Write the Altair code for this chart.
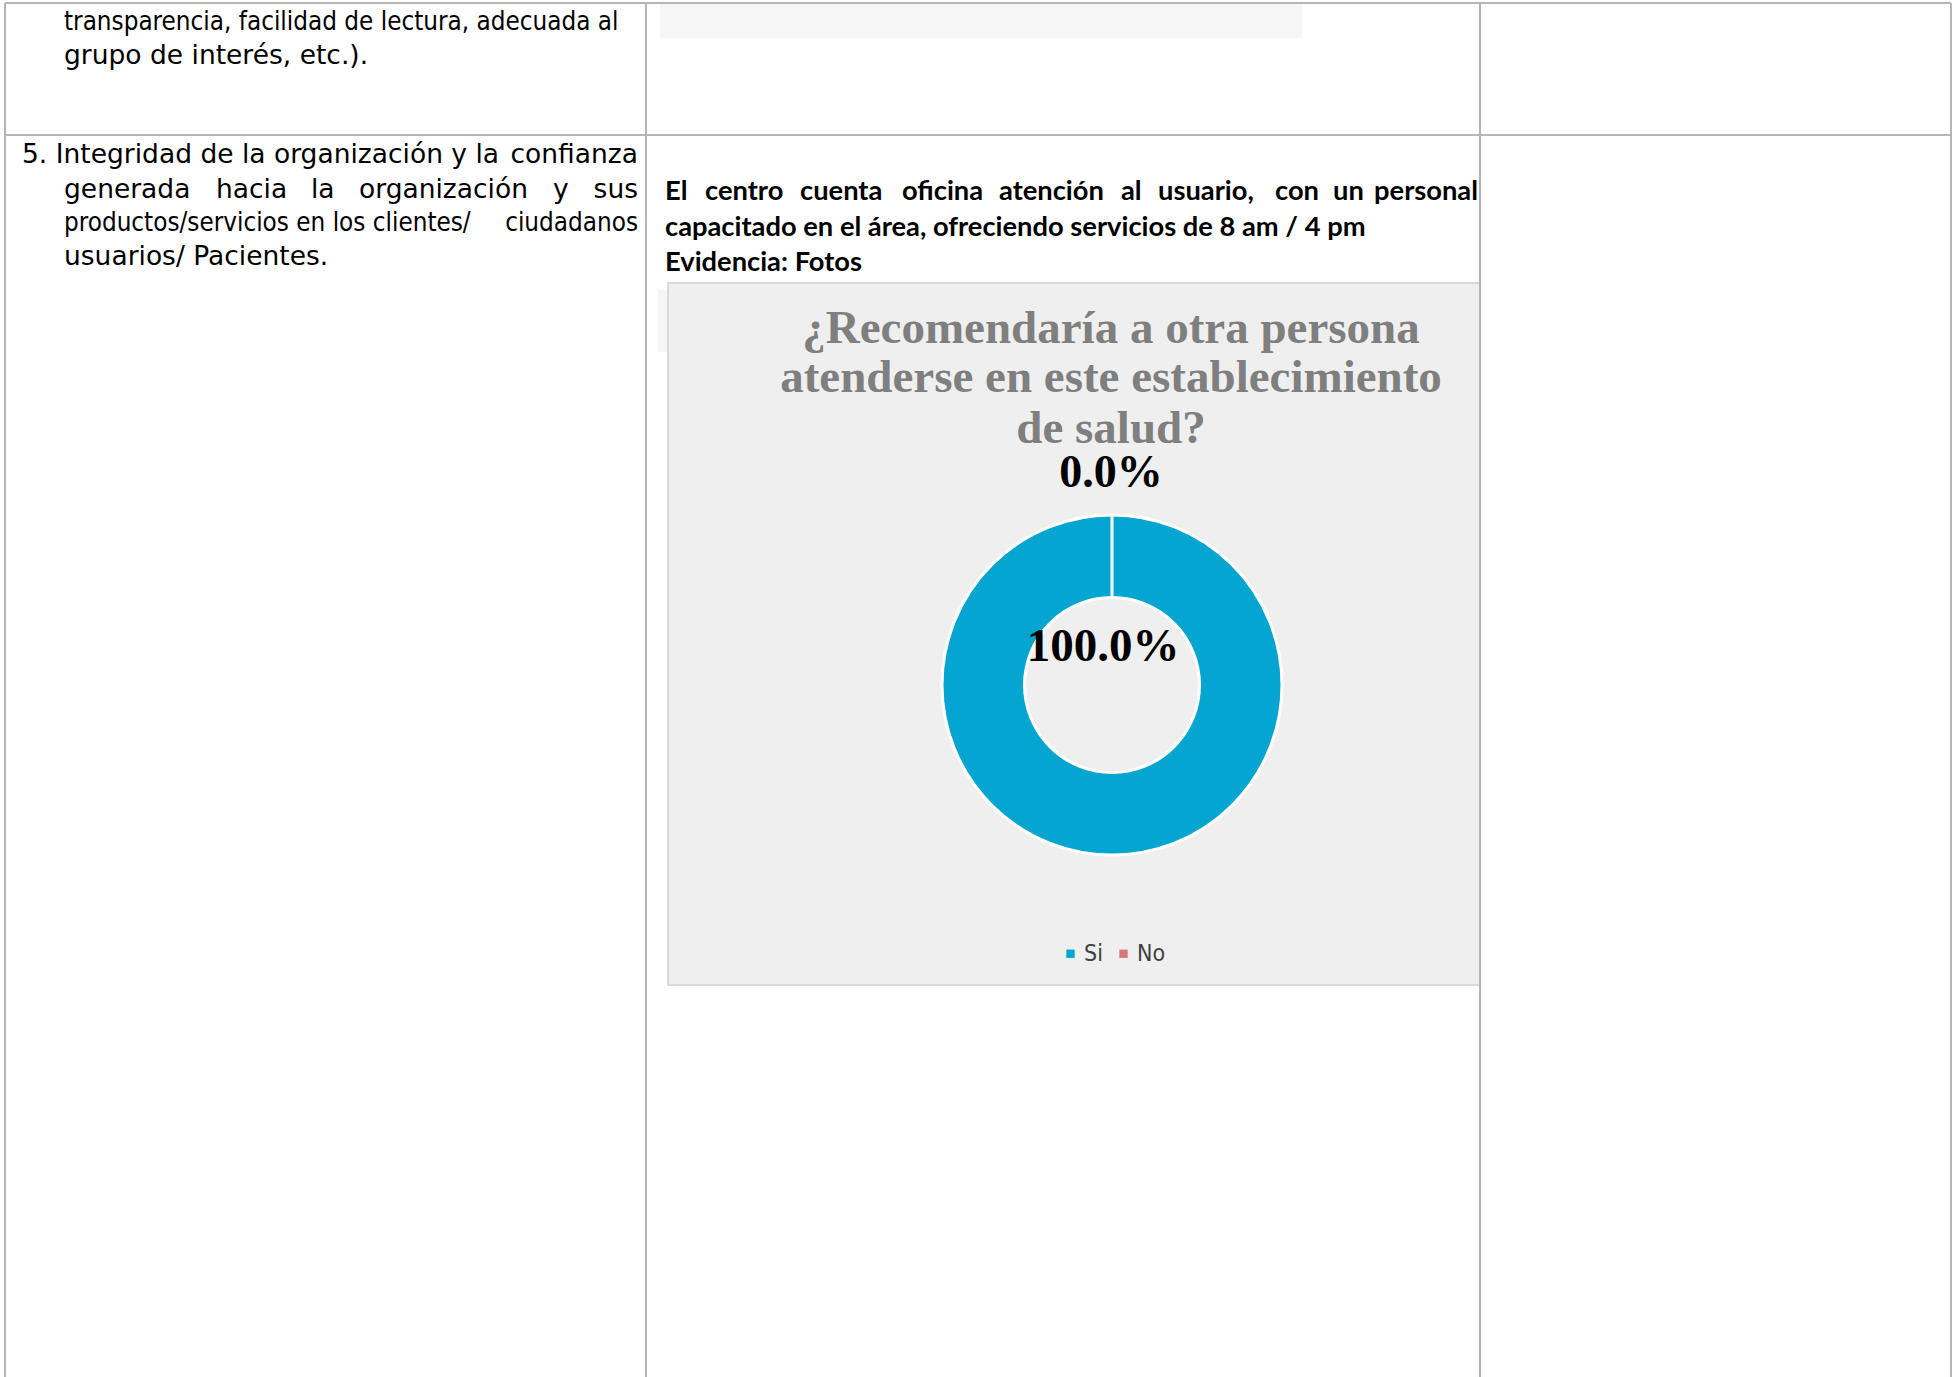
import altair as alt
import pandas as pd

W, H = 1957, 1377

# ---- data ----
categories = ["Si", "No"]
percent_values = [100.0, 0.0]
slice_colors = ["#04a5d0", "#d27a7c"]

chart_title_lines = ["¿Recomendaría a otra persona",
                     "atenderse en este establecimiento",
                     "de salud?"]

row1_lines = ["transparencia, facilidad de lectura, adecuada al",
              "grupo de interés, etc.)."]

row2_line1 = ["5. Integridad de la organización y la", "confianza"]
row2_line2_words = ["generada", "hacia", "la", "organización", "y", "sus"]
row2_line3 = ["productos/servicios en los clientes/", "ciudadanos"]
row2_line4 = ["usuarios/ Pacientes."]

bold_line1_words = ["El", "centro", "cuenta", "oficina", "atención", "al",
                    "usuario,", "con", "un", "personal"]
bold_line2 = ["capacitado en el área, ofreciendo servicios de 8 am / 4 pm"]
bold_line3 = ["Evidencia: Fotos"]

# ---- styles ----
BODY = "DejaVu Sans"
BODY_C = "DejaVu Sans Condensed, DejaVu Sans"
BOLD = "Lato"
SERIF = "Liberation Serif"
LINE = "#b5b5b5"
FS = 26.5
FSC = 25.8
FB = 27.3

one = pd.DataFrame({"k": [0]})


def txt(s, x, y, size, font, color="#000000", weight="normal", align="left"):
    return alt.Chart(pd.DataFrame({"t": [s]})).mark_text(
        align=align, baseline="middle", fontSize=size, font=font,
        fontWeight=weight, color=color
    ).encode(x=alt.value(x), y=alt.value(y), text="t:N")


def rule(x1, y1, x2, y2, color=LINE, w=2):
    return alt.Chart(one).mark_rule(color=color, strokeWidth=w).encode(
        x=alt.value(x1), x2=alt.value(x2), y=alt.value(y1), y2=alt.value(y2))


def box(x1, y1, x2, y2, fill, stroke=None, sw=0):
    kw = dict(fill=fill)
    if stroke:
        kw.update(stroke=stroke, strokeWidth=sw)
    return alt.Chart(one).mark_rect(**kw).encode(
        x=alt.value(x1), x2=alt.value(x2), y=alt.value(y1), y2=alt.value(y2))


layers = []

# light gray pieces
layers.append(box(660, 4, 1302, 38, "#f6f6f6"))
layers.append(box(658, 290, 668, 352, "#f5f5f5"))

# chart box
layers.append(box(668, 283, 1480, 985, "#efefef", "#d9d9d9", 2))

# table lines
layers.append(rule(5, 3, 1951, 3))
layers.append(rule(5, 135, 1951, 135))
for xv in [5, 646, 1480, 1951]:
    layers.append(rule(xv, 3, xv, H))

# column 1 text
layers.append(txt(row1_lines[0], 64, 22, FSC, BODY_C))
layers.append(txt(row1_lines[1], 64, 56, FS, BODY))

layers.append(txt(row2_line1[0], 22, 155, FS, BODY))
layers.append(txt(row2_line1[1], 638, 155, FS, BODY, align="right"))
word_x = [64, 216, 311, 359, 553, 638]
for i, w in enumerate(row2_line2_words):
    layers.append(txt(w, word_x[i], 190, FS, BODY,
                      align="right" if i == len(row2_line2_words) - 1 else "left"))
layers.append(txt(row2_line3[0], 64, 223, FSC, BODY_C))
layers.append(txt(row2_line3[1], 638, 223, FSC, BODY_C, align="right"))
layers.append(txt(row2_line4[0], 64, 257, FS, BODY))

# column 2 bold text
bword_x = [665, 705, 800, 902, 999, 1121, 1158, 1275, 1333, 1478]
for i, w in enumerate(bold_line1_words):
    layers.append(txt(w, bword_x[i], 192, FB, BOLD, weight="bold",
                      align="right" if i == len(bold_line1_words) - 1 else "left"))
layers.append(txt(bold_line2[0], 665, 228, FB, BOLD, weight="bold"))
layers.append(txt(bold_line3[0], 665, 263, FB, BOLD, weight="bold"))

# chart title
for ln, yv in zip(chart_title_lines, [329, 378, 429]):
    layers.append(txt(ln, 1111, yv, 47, SERIF, color="#7f7f7f",
                      weight="bold", align="center"))

# donut
pie_df = pd.DataFrame({"cat": categories, "val": percent_values,
                       "idx": list(range(len(categories)))})
base = alt.Chart(pie_df)
donut = base.mark_arc(outerRadius=170, innerRadius=87.5, stroke="white",
                      strokeWidth=3).encode(
    theta=alt.Theta("val:Q", stack=True),
    order=alt.Order("idx:Q"),
    color=alt.Color("cat:N", sort=categories,
                    scale=alt.Scale(domain=categories, range=slice_colors),
                    legend=alt.Legend(title=None, orient="none", legendX=1059,
                                      legendY=942, direction="horizontal",
                                      symbolType="square", symbolSize=70,
                                      symbolStrokeWidth=0, labelFontSize=23,
                                      labelFont=BODY_C, labelColor="#404040",
                                      labelOffset=2, columnPadding=9,
                                      padding=0)),
    x=alt.value(1112), y=alt.value(685))
layers.append(donut)

lab = base.transform_calculate(label="format(datum.val / 100, '.1%')")
layers.append(lab.transform_filter(alt.datum.cat == "Si").mark_text(
    fontSize=47, font=SERIF, fontWeight="bold", color="#000000",
    align="center", baseline="middle").encode(
    x=alt.value(1103), y=alt.value(647), text="label:N"))
layers.append(lab.transform_filter(alt.datum.cat == "No").mark_text(
    fontSize=46, font=SERIF, fontWeight="bold", color="#000000",
    align="center", baseline="middle").encode(
    x=alt.value(1111), y=alt.value(473), text="label:N"))

chart = alt.layer(*layers).properties(
    width=W, height=H, padding=0, autosize=alt.AutoSizeParams(type="none"),
    background="white"
).configure_view(stroke=None)

chart.save("out.html", embed_options={"renderer": "svg", "actions": False})
